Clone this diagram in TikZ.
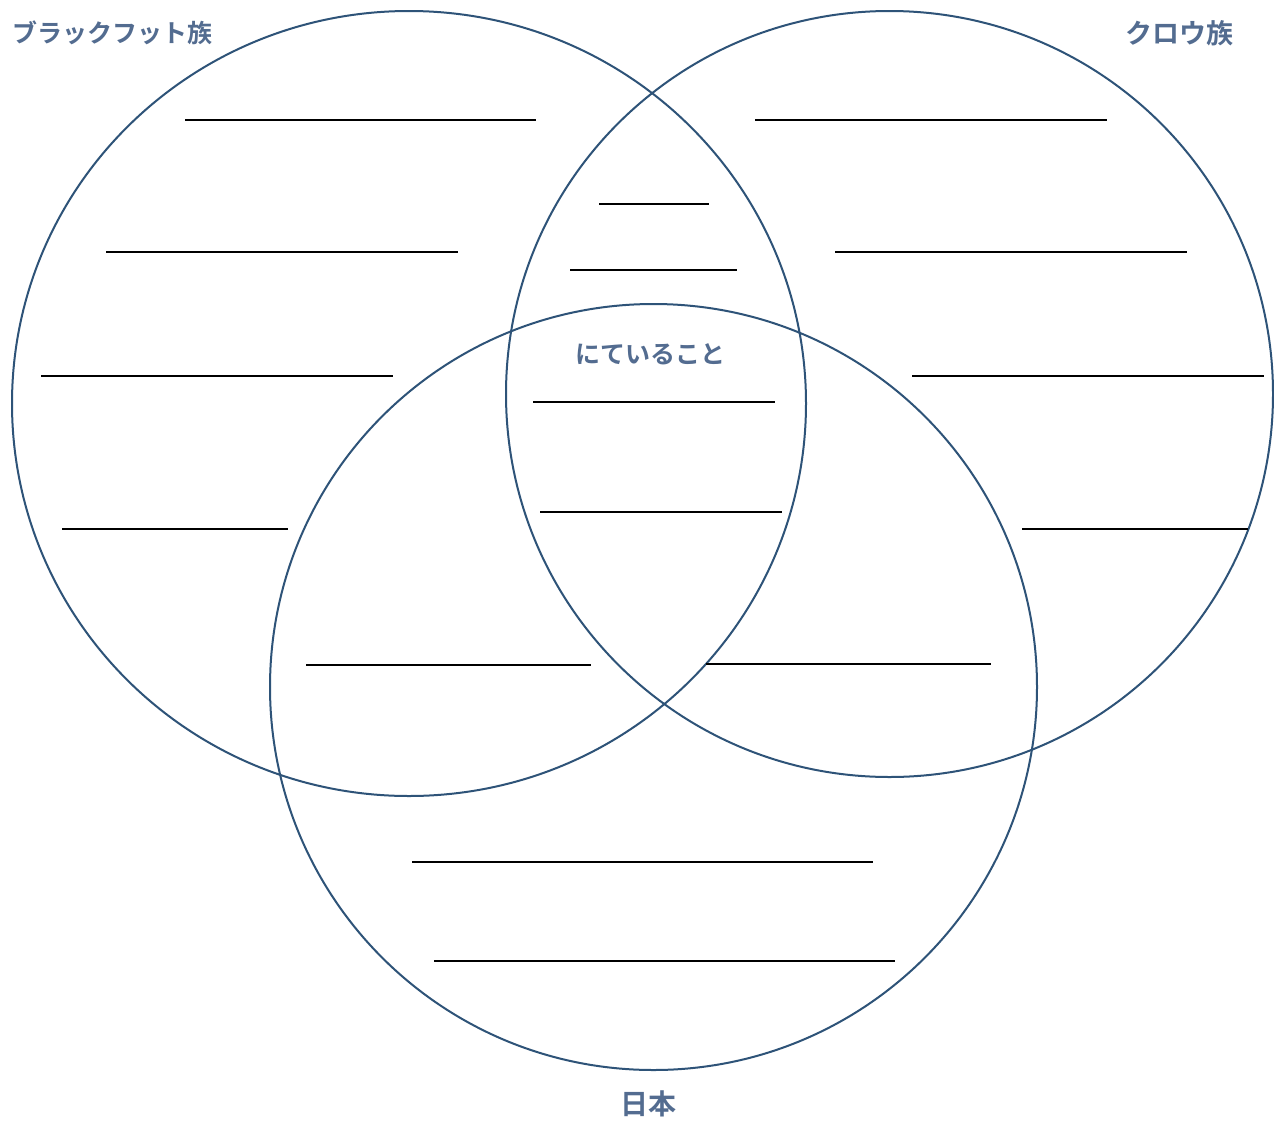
\documentclass[tikz,border=0pt]{standalone}
\usepackage{fontspec}
\newfontfamily\jpfont{Noto Sans CJK JP Bold}
\definecolor{ring}{HTML}{2E5378}
\definecolor{lbl}{HTML}{536C90}
\begin{document}
\begin{tikzpicture}[x=1pt,y=-1pt,
  ring/.style={draw=ring,line width=2pt},
  blank/.style={draw=black,line width=2.4pt},
  lab/.style={text=lbl,font=\jpfont\fontsize{25}{28}\selectfont,inner sep=0pt}]
\useasboundingbox (0,0) rectangle (1274,1122);
\fill[white] (0,0) rectangle (1274,1122);
% circles
\draw[ring] (409,403.5) ellipse [x radius=397, y radius=392.5];
\draw[ring] (889.5,394) ellipse [x radius=383.5, y radius=383];
\draw[ring] (653.5,687) ellipse [x radius=383.5, y radius=383];
% labels
\node[lab,anchor=west] (bf) at (12,33) {ブラックフット族};
\node[lab,anchor=east,font=\jpfont\fontsize{27}{30}\selectfont] (crow) at (1234,33) {クロウ族};
\node[lab] (common) at (650,354) {にていること};
\node[lab,font=\jpfont\fontsize{28}{31}\selectfont] (jp) at (648,1104) {日本};
% writing lines
\foreach \a/\b/\y [count=\i] in {185/536/120, 106/458/252, 41/393/376, 62/288/529,
  755/1107/120, 835/1187/252, 912/1264/376, 1022/1248/529,
  599/709/204, 570/737/270, 533/775/402, 540/782/512,
  306/591/665, 706/991/664, 412/873/862, 434/895/961}{
  \coordinate (l\i a) at (\a,\y);
  \coordinate (l\i b) at (\b,\y);
  \draw[blank] (l\i a) -- (l\i b);
}
\end{tikzpicture}
\end{document}
